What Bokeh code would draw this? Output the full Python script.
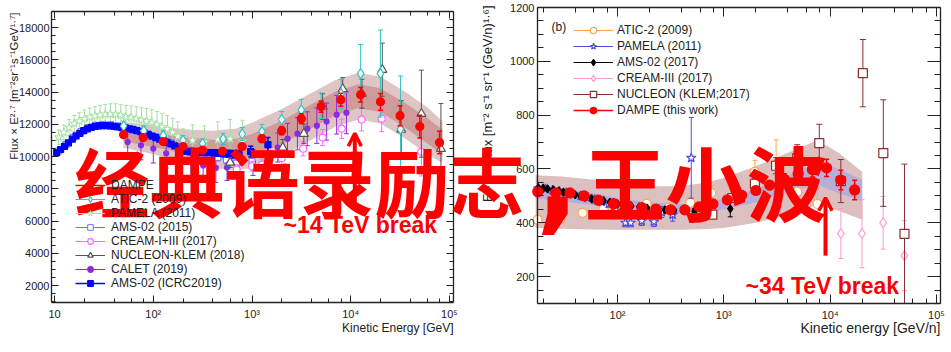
import math
from bokeh.plotting import figure
from bokeh.models import (LogAxis, LinearAxis, SingleIntervalTicker, LogTicker, LogScale,
                          CustomJSTickFormatter, Legend, LegendItem, Label, Arrow,
                          OpenHead, Range1d, ColumnDataSource)
from bokeh.embed import file_html
from bokeh.resources import INLINE

# ------------------------------------------------------------------ data
# Left panel: proton flux x E^2.7
dampe_p_E = [50, 79, 126, 200, 316, 501, 794, 1260, 2000, 3160, 5010, 7940, 12600, 20000, 31600, 50100, 79400]
dampe_p_F = [11360, 11180, 10930, 10620, 10400, 10330, 10620, 11110, 11610, 12350, 13100, 13530, 13840, 13400, 12540, 11860, 10870]
dampe_p_err = [150, 150, 150, 150, 160, 170, 200, 230, 260, 300, 350, 400, 450, 520, 620, 700, 700]

atic_p_E = [50, 80, 126, 200, 316, 510, 795, 1260, 2000, 3160, 5000, 8000, 12600, 20000, 32000]
atic_p_F = [11900, 11600, 11300, 11000, 10800, 11100, 11400, 11550, 12300, 12900, 13150, 13900, 15150, 15150, 11700]
atic_p_err = [300, 300, 300, 300, 300, 350, 400, 450, 500, 650, 800, 900, 1800, 2700, 3300]

pamela_p_E = [11.0, 12.4, 14.0, 15.8, 17.8, 20.1, 22.7, 25.6, 28.9, 32.6, 36.8, 41.5, 46.8, 52.8, 59.6,
              67.3, 75.9, 85.6, 96.6, 109, 123, 139, 157, 177, 200, 250, 330, 450, 600, 800]
pamela_p_F = [11200, 11500, 11800, 12050, 12200, 12350, 12450, 12520, 12580, 12620, 12640, 12620, 12560, 12480, 12420,
              12350, 12280, 12200, 12100, 11980, 11850, 11700, 11500, 11250, 10800, 11000, 10900, 11050, 11100, 10950]
pamela_p_err = [450, 450, 500, 500, 520, 540, 560, 580, 600, 620, 640, 660, 680, 700, 720,
                740, 760, 780, 800, 820, 840, 860, 880, 900, 920, 960, 1000, 1100, 1200, 1300]

ams15_E = [11, 13, 15.5, 18.5, 22, 26, 31, 37, 44, 52, 62, 74, 88, 105, 125, 150, 180, 215, 260, 310, 370, 450, 550, 700, 1000, 1500]
ams15_F = [10350, 10750, 11200, 11550, 11800, 11950, 12000, 11980, 11900, 11800, 11700, 11580, 11420, 11250, 11050,
           10850, 10600, 10400, 10250, 10150, 10050, 9950, 9800, 9600, 9700, 9900]
ams15_err = [80, 80, 80, 80, 80, 80, 80, 80, 80, 90, 90, 100, 100, 110, 120, 130, 140, 150, 160, 180, 200, 220, 250, 300, 380, 480]

ams19_E = [10.5, 11.5, 12.6, 13.8, 15.1, 16.5, 18.0, 19.7, 21.5, 23.5, 25.7, 28.1, 30.7, 33.5, 36.6, 40.0, 43.7,
           47.8, 52.2, 57.0, 62.3, 68.1, 74.4, 81.3, 88.8, 97.0, 106, 116, 127, 138, 151, 165, 181, 197, 216, 236,
           258, 282, 308, 336, 368, 402, 439, 480, 524, 573, 626, 740, 970, 1450]
ams19_F = [10250, 10440, 10640, 10850, 11080, 11280, 11440, 11610, 11720, 11810, 11870, 11910, 11920, 11920, 11910,
           11880, 11840, 11800, 11760, 11720, 11670, 11610, 11540, 11460, 11370, 11270, 11180, 11080, 10980, 10880,
           10780, 10660, 10530, 10400, 10330, 10290, 10260, 10250, 10240, 10240, 10240, 10230, 10230, 10220, 10200,
           10180, 10150, 10120, 10310, 10740]
ams19_err = [60, 60, 60, 60, 60, 60, 60, 60, 60, 60, 60, 60, 60, 60, 60, 60, 60, 60, 60, 60, 70, 70, 70, 70, 80,
             80, 80, 90, 90, 100, 100, 110, 110, 120, 120, 130, 130, 140, 150, 160, 170, 180, 190, 200, 210, 220,
             230, 260, 330, 450]

calet_E = [55, 75, 100, 135, 180, 240, 320, 430, 558, 723, 1024, 1445, 1820, 2290, 2885, 3630, 4540, 5700, 7200, 9050]
calet_F = [10900, 10700, 10500, 10200, 9900, 9650, 9450, 9300, 9320, 9570, 9630, 9940, 10560, 11110, 11420, 11730,
           11920, 12170, 12600, 12720]
calet_err = [900, 900, 900, 900, 900, 900, 900, 900, 800, 800, 800, 850, 900, 950, 1000, 1050, 1100, 1150, 1200, 1300]

nucleon_p_E = [600, 2050, 3350, 5200, 8300, 13000, 20900, 32500, 52000, 82000]
nucleon_p_F = [9630, 10560, 11420, 13100, 14200, 13900, 15390, 11670, 12660, 10490]
nucleon_p_err = [300, 500, 600, 800, 700, 900, 1650, 1800, 2700, 2800]

cream_p_E = [700, 1000, 1260, 2000, 3300, 5200, 8100, 12900, 20600, 52000]
cream_p_F = [9200, 9400, 9500, 9900, 10490, 11180, 11730, 12290, 12350, 10300]
cream_p_err = [300, 300, 350, 400, 450, 500, 600, 700, 800, 1500]

band_p_E = [50, 100, 200, 400, 700, 1000, 2000, 4000, 7000, 12000, 20000, 35000, 60000, 85000]
band_p_mid = [11350, 11050, 10700, 10450, 10450, 10700, 11500, 12500, 13300, 13750, 13500, 12600, 11600, 10900]
band_p_outer = [800, 900, 1000, 1150, 1300, 1400, 1450, 1450, 1450, 1450, 1450, 1450, 1450, 1300]
band_p_inner = [400, 450, 500, 600, 650, 700, 720, 740, 740, 740, 740, 760, 780, 780]

# Right panel: helium flux x E^2.6
ams_he_E = [18, 20, 22, 25, 28, 31, 35, 40, 45, 50, 57, 65, 74, 85, 100, 115, 135, 160, 190, 230, 280, 340, 420, 530, 700, 1150]
ams_he_F = [530, 529, 526, 522, 518, 514, 509, 504, 499, 495, 490, 486, 482, 476, 470, 466, 462, 459, 455, 452,
            448, 446, 445, 443, 441, 452]
ams_he_err = [3, 3, 3, 3, 3, 3, 3, 3, 3, 3, 3, 3, 3, 3, 3, 3, 4, 4, 4, 5, 5, 6, 7, 9, 14, 30]

dampe_he_E = [17.8, 26.3, 35.8, 48.6, 66, 92, 125, 170, 230, 315, 430, 585, 790, 1080, 1470, 2000, 2700, 3700,
              5000, 6800, 9250, 12600, 17000]
dampe_he_F = [515, 511, 511, 500, 484, 471, 463, 456, 451, 448, 448, 459, 470, 485, 502, 520, 540, 562, 582, 598,
              604, 559, 522]
dampe_he_err = [4, 4, 4, 4, 4, 4, 4, 4, 5, 5, 6, 7, 8, 10, 12, 14, 16, 20, 24, 28, 32, 36, 36]

atic_he_E = [17.7, 29, 47, 74, 188, 305, 483, 760, 1200, 1960, 3100, 4900, 7600]
atic_he_F = [411, 415, 437, 452, 470, 456, 474, 511, 541, 589, 615, 515, 470]
atic_he_err = [8, 8, 8, 10, 12, 15, 20, 25, 30, 43, 93, 70, 60]

pamela_he_E = [18, 21, 24.5, 28.5, 33, 38.5, 45, 52, 61, 71, 83, 97, 119, 133, 169, 220, 260, 330, 494]
pamela_he_F = [528, 526, 521, 517, 512, 506, 500, 493, 486, 478, 470, 445, 400, 400, 407, 404, 440, 430, 641]
pamela_he_err = [8, 8, 8, 8, 8, 9, 9, 10, 10, 11, 12, 14, 15, 15, 17, 18, 20, 24, 150]

cream_he_E = [12600, 19900, 31500, 50000]
cream_he_F = [360, 360, 400, 278]
cream_he_err = [93, 127, 98, 130]

nucleon_he_E = [780, 1200, 1960, 3100, 4900, 7900, 12600, 20300, 31600, 50000]
nucleon_he_F = [430, 492, 545, 612, 640, 696, 555, 956, 659, 359]
nucleon_he_err = [12, 15, 20, 30, 50, 70, 80, 125, 198, 259]

band_he_E = [17, 30, 60, 100, 200, 400, 700, 1000, 2000, 4000, 7600, 12000, 20000]
band_he_outer_lo = [381, 378, 375, 374, 374, 374, 377, 381, 400, 430, 467, 445, 411]
band_he_outer_hi = [577, 572, 560, 548, 535, 537, 550, 567, 610, 660, 707, 660, 589]
band_he_inner_lo = [490, 480, 465, 452, 440, 435, 440, 450, 475, 515, 540, 510, 480]
band_he_inner_hi = [535, 527, 510, 492, 475, 470, 478, 490, 525, 575, 625, 600, 560]

left_legend = ["DAMPE", "ATIC-2 (2009)", "PAMELA (2011)", "AMS-02 (2015)", "CREAM-I+III (2017)",
               "NUCLEON-KLEM (2018)", "CALET (2019)", "AMS-02 (ICRC2019)"]
right_legend = ["ATIC-2 (2009)", "PAMELA (2011)", "AMS-02 (2017)", "CREAM-III (2017)",
                "NUCLEON (KLEM;2017)", "DAMPE (this work)"]

# axis extents of the two panels (data units)
P1_X = (9.3, 1.1e5)
P1_Y = (950, 19000)
P2_X = (17.7, 1.09e5)
P2_Y = (100, 1200)

# ------------------------------------------------------------------ layout constants (pixels)
W, H = 951, 352
P1_FRAME = (51, 453, 302, 11)     # left, right, bottom, top
P2_FRAME = (537, 940, 303, 7)

SANS = "Liberation Sans"
CJK = "Noto Sans CJK SC"
RED = "#ff0000"
INK = "#222222"


def log_range(px0, px1, v0, v1):
    a, b = math.log10(v0), math.log10(v1)
    k = (b - a) / (px1 - px0)
    return Range1d(10 ** (a - px0 * k), 10 ** (a + (W - px0) * k))


def lin_range(py_bot, py_top, v0, v1):
    k = (v1 - v0) / (py_bot - py_top)
    return Range1d(v0 - (H - py_bot) * k, v1 + py_top * k)


SUP_JS = """
const s = {'0':'\u2070','1':'\u00b9','2':'\u00b2','3':'\u00b3','4':'\u2074','5':'\u2075',
           '6':'\u2076','7':'\u2077','8':'\u2078','9':'\u2079','-':'\u207b'};
const e = Math.round(Math.log10(tick));
if (e == 1) { return '10'; }
return '10' + String(e).split('').map(c => s[c]).join('');
"""

p = figure(width=W, height=H, x_axis_type="log", x_axis_location=None, y_axis_location=None,
           x_range=log_range(P1_FRAME[0], P1_FRAME[1], *P1_X),
           y_range=lin_range(P1_FRAME[2], P1_FRAME[3], *P1_Y),
           output_backend="svg", toolbar_location=None,
           min_border=0, min_border_left=0, min_border_right=0, min_border_top=0, min_border_bottom=0)
p.extra_x_ranges = {"he": log_range(P2_FRAME[0], P2_FRAME[1], *P2_X)}
p.extra_x_scales = {"he": LogScale()}
p.extra_y_ranges = {"he": lin_range(P2_FRAME[2], P2_FRAME[3], *P2_Y)}
p.grid.visible = False
p.outline_line_color = None
p.background_fill_color = "white"
p.border_fill_color = "white"


def add_axis(cls, place, fixed, bounds, ticker, rn, tick_in, minor_in, labels, font="11px", standoff=4):
    kw = dict(ticker=ticker, fixed_location=fixed, bounds=bounds)
    if rn != "default":
        kw.update(x_range_name=rn, y_range_name=rn)
    if labels and cls is LogAxis:
        kw["formatter"] = CustomJSTickFormatter(code=SUP_JS)
    if not labels:
        kw["formatter"] = CustomJSTickFormatter(code="return '';")
    ax = cls(**kw)
    ax.major_tick_in = tick_in
    ax.major_tick_out = 0
    ax.minor_tick_in = minor_in
    ax.minor_tick_out = 0
    ax.axis_line_color = INK
    ax.axis_line_width = 1.3
    ax.major_tick_line_color = INK
    ax.minor_tick_line_color = INK
    ax.major_label_text_font = SANS
    ax.major_label_text_font_size = font if labels else "0px"
    ax.major_label_text_color = INK
    ax.major_label_standoff = standoff if labels else 0
    p.add_layout(ax, place)
    return ax


# left panel axes
xt1, yt1 = LogTicker(), SingleIntervalTicker(interval=2000, num_minor_ticks=4)
add_axis(LogAxis, "below", P1_Y[0], P1_X, xt1, "default", 7, 4, True, standoff=5)
add_axis(LogAxis, "above", P1_Y[1], P1_X, xt1, "default", 7, 4, False)
add_axis(LinearAxis, "left", P1_X[0], P1_Y, yt1, "default", 7, 4, True, standoff=2)
add_axis(LinearAxis, "right", P1_X[1], P1_Y, yt1, "default", 7, 4, False)
# right panel axes
xt2, yt2 = LogTicker(), SingleIntervalTicker(interval=200, num_minor_ticks=4)
add_axis(LogAxis, "below", P2_Y[0], P2_X, xt2, "he", 9, 5, True, standoff=5)
add_axis(LogAxis, "above", P2_Y[1], P2_X, xt2, "he", 9, 5, False)
add_axis(LinearAxis, "left", P2_X[0], P2_Y, yt2, "he", 13, 6, True, standoff=3)
add_axis(LinearAxis, "right", P2_X[1], P2_Y, yt2, "he", 13, 6, False)


def series(E, V, err, color, marker, size, fill, rn="default", lw=1.0, cap=5, line_w=1.2):
    lo = [v - e for v, e in zip(V, err)]
    hi = [v + e for v, e in zip(V, err)]
    src = ColumnDataSource(dict(x=E, y=V, lo=lo, hi=hi))
    kw = dict(x_range_name=rn, y_range_name=rn) if rn != "default" else {}
    seg = p.segment(x0="x", y0="lo", x1="x", y1="hi", source=src, line_color=color, line_width=lw, **kw)
    p.scatter(x="x", y="lo", source=src, marker="dash", size=cap, line_color=color, line_width=lw, **kw)
    p.scatter(x="x", y="hi", source=src, marker="dash", size=cap, line_color=color, line_width=lw, **kw)
    mk = p.scatter(x="x", y="y", source=src, marker=marker, size=size, line_color=color,
                   fill_color=fill, line_width=line_w, **kw)
    return [seg, mk]


# ------------------------------------------------------------------ left panel content
lo_o = [m - h for m, h in zip(band_p_mid, band_p_outer)]
hi_o = [m + h for m, h in zip(band_p_mid, band_p_outer)]
lo_i = [m - h for m, h in zip(band_p_mid, band_p_inner)]
hi_i = [m + h for m, h in zip(band_p_mid, band_p_inner)]
p.varea(x=band_p_E, y1=lo_o, y2=hi_o, fill_color="#dec6c6")
p.varea(x=band_p_E, y1=lo_i, y2=hi_i, fill_color="#cf9a9a")

r_pam = series(pamela_p_E, pamela_p_F, pamela_p_err, "#a3e0a3", "star", 9, "white", line_w=1.0, cap=4)
r_calet = series(calet_E, calet_F, calet_err, "#8a2be2", "circle", 5, "#8a2be2")
r_ams15 = series(ams15_E, ams15_F, ams15_err, "#6f6fff", "square", 6, "white", line_w=1.0)
r_ams19 = series(ams19_E, ams19_F, ams19_err, "#0000ff", "square", 6, "#0000ff", lw=1.5)
r_cream = series(cream_p_E, cream_p_F, cream_p_err, "#ff66ff", "circle", 7, "white")
r_nuc = series(nucleon_p_E, nucleon_p_F, nucleon_p_err, "#555555", "triangle", 9, "white")
r_atic = series(atic_p_E, atic_p_F, atic_p_err, "#2ec4c4", "diamond", 10, "white")
r_dampe = series(dampe_p_E, dampe_p_F, dampe_p_err, RED, "circle", 8, RED, lw=1.5)

# ------------------------------------------------------------------ right panel content
p.varea(x=band_he_E, y1=band_he_outer_lo, y2=band_he_outer_hi, fill_color="#dcbfbf",
        x_range_name="he", y_range_name="he")
p.varea(x=band_he_E, y1=band_he_inner_lo, y2=band_he_inner_hi, fill_color="#b6aed8",
        x_range_name="he", y_range_name="he")

q_atic = series(atic_he_E, atic_he_F, atic_he_err, "#ffa64d", "circle", 9, "white", rn="he")
q_pam = series(pamela_he_E, pamela_he_F, pamela_he_err, "#4d4dd9", "star", 10, "white", rn="he")
q_ams = series(ams_he_E, ams_he_F, ams_he_err, "#000000", "diamond", 8, "#000000", rn="he")
q_cream = series(cream_he_E, cream_he_F, cream_he_err, "#ff99cc", "diamond", 10, "white", rn="he")
q_nuc = series(nucleon_he_E, nucleon_he_F, nucleon_he_err, "#8b2e2e", "square", 9, "white", rn="he", cap=6)
q_dampe = series(dampe_he_E, dampe_he_F, dampe_he_err, RED, "circle", 10, RED, rn="he", lw=1.5)

# ------------------------------------------------------------------ legends
leg1 = Legend(items=[LegendItem(label=t, renderers=r) for t, r in zip(
    left_legend, [r_dampe, r_atic, r_pam, r_ams15, r_cream, r_nuc, r_calet, r_ams19])],
    location=(75, H - 290), padding=0, margin=0, spacing=0, label_height=14, glyph_height=14,
    glyph_width=30, label_standoff=6, label_text_font=SANS, label_text_font_size="12px",
    label_text_color=INK, border_line_alpha=0, background_fill_alpha=0)
p.add_layout(leg1)
leg2 = Legend(items=[LegendItem(label=t, renderers=r) for t, r in zip(
    right_legend, [q_atic, q_pam, q_ams, q_cream, q_nuc, q_dampe])],
    location=(573, H - 118), padding=0, margin=0, spacing=0, label_height=16, glyph_height=16,
    glyph_width=40, label_standoff=4, label_text_font=SANS, label_text_font_size="12px",
    label_text_color=INK, border_line_alpha=0, background_fill_alpha=0)
p.add_layout(leg2)


def label(x, y, text, size, font=SANS, align="left", baseline="middle", angle=0.0,
          color=INK, style="normal"):
    p.add_layout(Label(x=x, y=H - y, x_units="screen", y_units="screen", text=text,
                       text_font=font, text_font_size=size, text_font_style=style,
                       text_color=color, text_align=align, text_baseline=baseline, angle=angle))


# axis titles
label(13, 12, "Flux \u00d7 E\u00b2\u00b7\u2077 [m\u207b\u00b2sr\u207b\u00b9s\u207b\u00b9GeV\u00b9\u00b7\u2077]",
      "11.5px", align="right", angle=math.pi / 2)
label(453, 327, "Kinetic Energy [GeV]", "12px", align="right")
label(487, 5, "E\u00b2\u00b7\u2076 \u00d7 Flux [m\u207b\u00b2 s\u207b\u00b9 sr\u207b\u00b9 (GeV/n)\u00b9\u00b7\u2076]",
      "13px", align="right", angle=math.pi / 2)
label(940, 327, "Kinetic energy [GeV/n]", "14px", align="right")
label(551, 26, "(b)", "12px")

# break annotations
p.add_layout(Arrow(end=OpenHead(size=13, line_color=RED, line_width=3.5),
                   x_start=11000, y_start=6700, x_end=11000, y_end=11450,
                   line_color=RED, line_width=4))
label(283, 224, "~14 TeV break", "23px", baseline="alphabetic", color=RED, style="bold")
p.add_layout(Arrow(end=OpenHead(size=13, line_color=RED, line_width=3.5),
                   x_start=9040, y_start=278, x_end=9040, y_end=493,
                   line_color=RED, line_width=4, x_range_name="he", y_range_name="he"))
label(745, 285, "~34 TeV break", "23px", baseline="alphabetic", color=RED, style="bold")

# overlay caption
label(74, 179, "经典语录励志", "75px", font=CJK, color=RED, style="bold")
label(557, 176, ",", "115px", font="DejaVu Sans", align="center", baseline="alphabetic",
      color=RED, style="bold")
label(584, 179, "王小波", "81px", font=CJK, color=RED, style="bold")

open("out.html", "w").write(file_html(p, INLINE))
